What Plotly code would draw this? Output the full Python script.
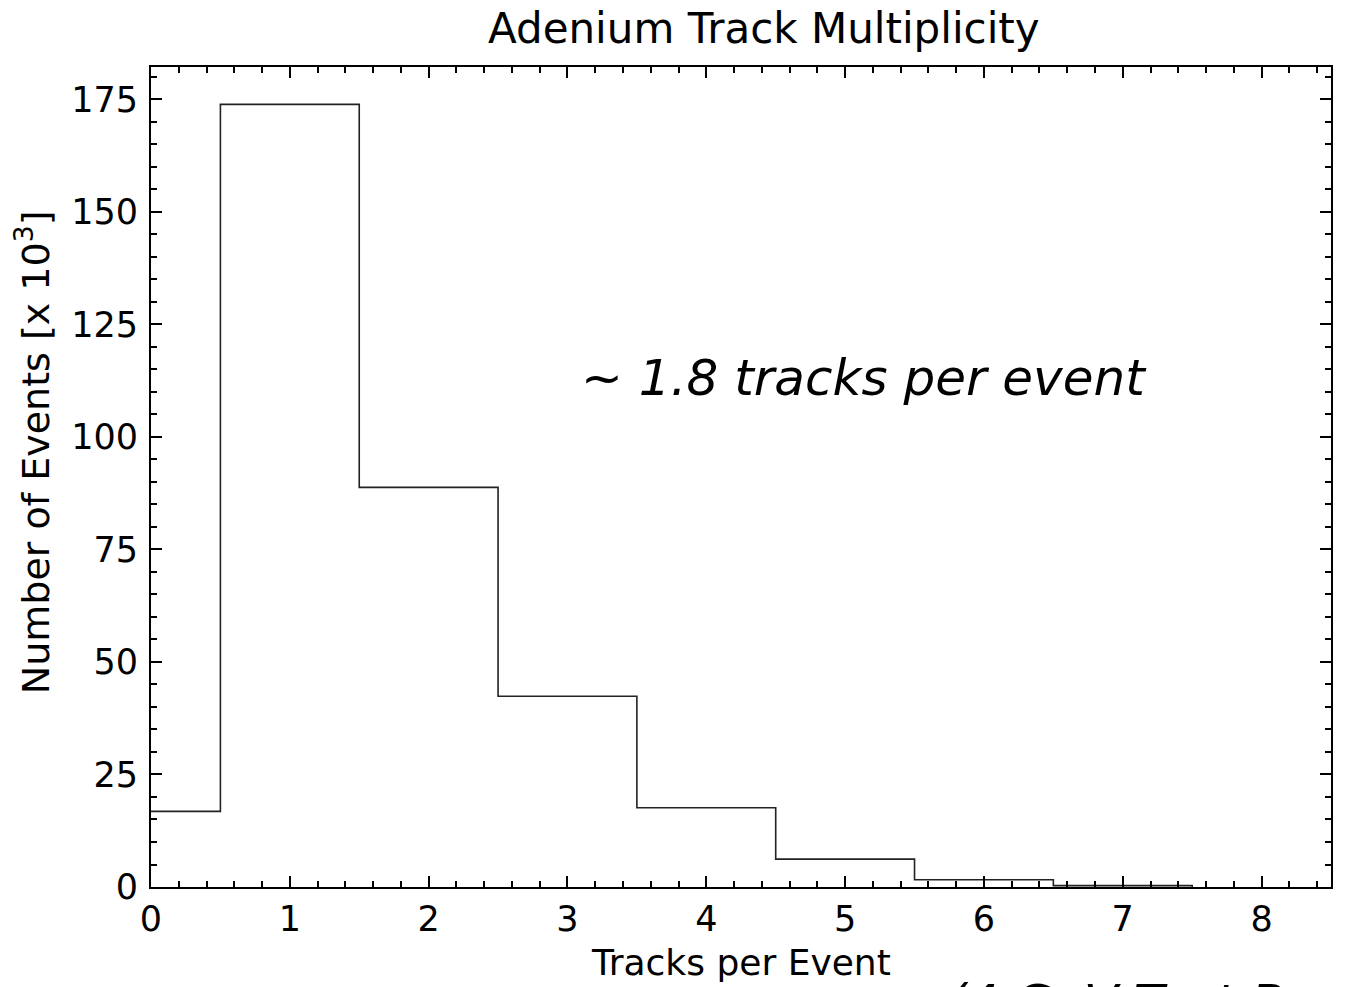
import plotly.graph_objects as go

# Data: bin centers (tracks per event) and counts (x 10^3)
tracks = [0, 1, 2, 3, 4, 5, 6, 7]
counts = [16.8, 173.9, 88.8, 42.4, 17.6, 6.2, 1.6, 0.3]
x_ticks = [0, 1, 2, 3, 4, 5, 6, 7, 8]
y_ticks = [0, 25, 50, 75, 100, 125, 150, 175]

# Step outline built from the bins
edges = [t - 0.5 for t in tracks] + [tracks[-1] + 0.5]
xs = edges + [edges[-1]]
ys = counts + [counts[-1], 0]

W, H = 1345, 987
ML, MR, MT, MB = 151, 12, 67, 100
PW, PH = W - ML - MR, H - MT - MB

fig = go.Figure()
fig.add_trace(go.Scatter(
    x=xs, y=ys, mode="lines", line_shape="hv",
    line=dict(color="#222222", width=1.6), showlegend=False, hoverinfo="skip",
))

axis_common = dict(
    showgrid=False, zeroline=False, showline=True, linecolor="black", linewidth=2,
    mirror="ticks", ticks="inside", ticklen=11, tickwidth=2, tickcolor="black",
    tickfont=dict(family="DejaVu Sans", size=35, color="black"),
)

fig.update_xaxes(
    range=[0, 8.5], tickvals=x_ticks, ticktext=[str(v) for v in x_ticks],
    minor=dict(ticks="inside", ticklen=6, tickwidth=1.5, dtick=0.2, tick0=0, tickcolor="black"),
    **axis_common,
)
fig.update_yaxes(
    range=[0, 182.2], tickvals=y_ticks, ticktext=[str(v) for v in y_ticks],
    minor=dict(ticks="inside", ticklen=6, tickwidth=1.5, dtick=5, tick0=0, tickcolor="black"),
    ticklabelstandoff=4,
    **axis_common,
)

def px(xp):
    return (xp - ML) / PW

def py(yp):
    return (H - MB - yp) / PH

fig.update_layout(
    width=W, height=H,
    margin=dict(l=ML, r=MR, t=MT, b=MB),
    paper_bgcolor="white", plot_bgcolor="white",
    annotations=[
        dict(text="Adenium Track Multiplicity", xref="paper", yref="paper",
             x=px(765), y=py(29), xanchor="center", yanchor="middle", showarrow=False,
             font=dict(family="DejaVu Sans", size=42, color="black")),
        dict(text="Tracks per Event", xref="paper", yref="paper",
             x=px(742), y=py(962), xanchor="center", yanchor="middle", showarrow=False,
             font=dict(family="DejaVu Sans", size=36, color="black")),
        dict(text="Number of Events [x 10<sup>3</sup>]", xref="paper", yref="paper",
             x=px(33), y=py(452), xanchor="center", yanchor="middle", showarrow=False,
             textangle=-90, font=dict(family="DejaVu Sans", size=38, color="black")),
        dict(text="<i>~ 1.8 tracks per event</i>", xref="paper", yref="paper",
             x=px(580), y=py(378), xanchor="left", yanchor="middle", showarrow=False,
             font=dict(family="DejaVu Sans", size=50, color="black")),
        dict(text="<i>(4 GeV Test Beam)</i>", xref="paper", yref="paper",
             x=px(946), y=py(972), xanchor="left", yanchor="top", showarrow=False,
             font=dict(family="DejaVu Sans", size=50, color="black")),
    ],
)

fig.write_html(
    "out.html",
    config={"displayModeBar": False},
    post_script="document.body.style.margin='0px';document.body.style.overflow='hidden';",
)
